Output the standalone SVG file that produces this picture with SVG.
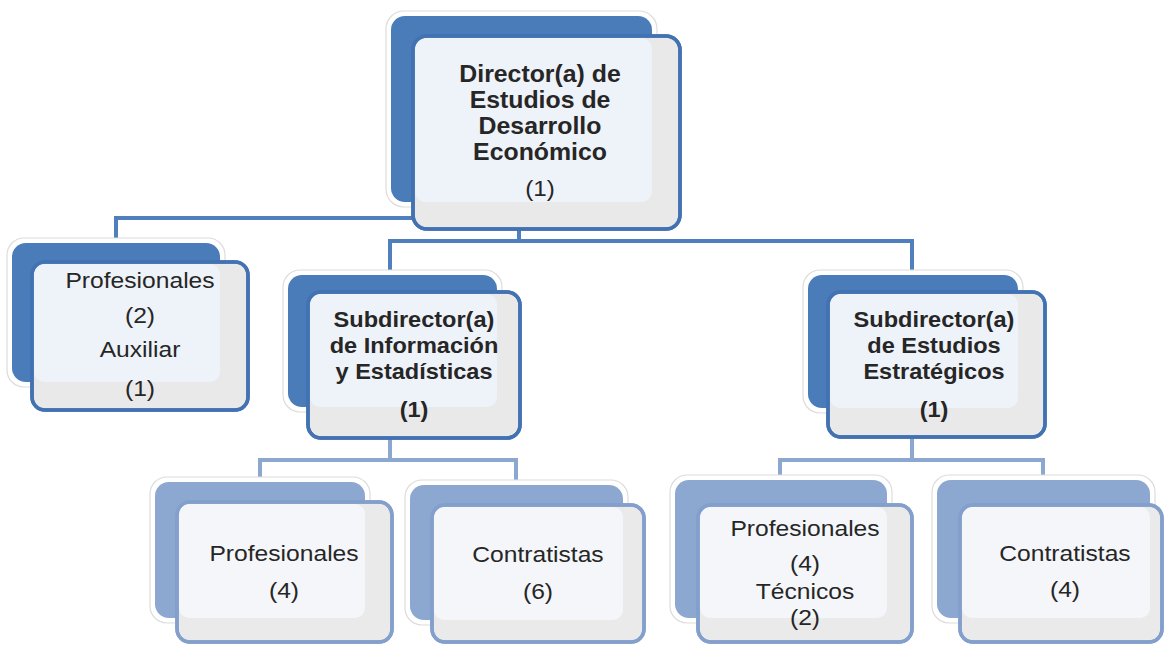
<svg xmlns="http://www.w3.org/2000/svg" width="1165" height="645" viewBox="0 0 1165 645">
<style>
.bg{fill:#ffffff}
.halo{fill:#ffffff;stroke:#dcdcdc;stroke-width:1.2}
.back1{fill:#4A7CBA}
.back2{fill:#8DA8D0}
.front1{fill:#E9E9E9;stroke:#4272B2;stroke-width:3.5}
.front2{fill:#EAEAEA;stroke:#839FCB;stroke-width:3.5}
.edge1{fill:none;stroke:#4272B2;stroke-width:3.5}
.edge2{fill:none;stroke:#839FCB;stroke-width:3.5}
.in1{fill:#EEF2F9}
.in2{fill:#F4F6FA}
.c1{fill:none;stroke:#4F7FBD;stroke-width:4}
.c2{fill:none;stroke:#8CA7D0;stroke-width:4}
text{font-family:"Liberation Sans",Arial,sans-serif;fill:#262626;text-anchor:middle}
.b{font-weight:bold;font-size:23px}
.bs{font-weight:bold;font-size:22px}
.r{font-size:22px}
</style>
<rect class="bg" x="0" y="0" width="1165" height="645"/>
<g id="connectors">
  <path class="c1" d="M413 218 H116 V239"/>
  <path class="c1" d="M519 229 V241 M388 241 H914 M390 241 V276 M912 241 V276"/>
  <path class="c2" d="M390 438 V460 M258 460 H518 M260 460 V479 M516 460 V481"/>
  <path class="c2" d="M912 437 V460 M778 460 H1045 M780 460 V479 M1043 460 V479"/>
</g>
<g id="n-director">
  <rect class="halo" x="386" y="11" width="271" height="196" rx="18"/>
  <rect class="back1" x="391" y="16" width="261" height="186" rx="14"/>
  <rect class="front1" x="413" y="36" width="267" height="193" rx="14"/>
  <rect class="in1" x="415" y="38" width="237" height="164" rx="11"/>
  <rect class="edge1" x="413" y="36" width="267" height="193" rx="14"/>
  <g transform="translate(540 0) scale(1.08 1)">
    <text class="b" x="0" y="82">Director(a) de</text>
    <text class="b" x="0" y="108">Estudios de</text>
    <text class="b" x="0" y="134">Desarrollo</text>
    <text class="b" x="0" y="160">Económico</text>
  </g>
  <g transform="translate(540 0) scale(1.1 1)">
    <text class="r" x="0" y="196">(1)</text>
  </g>
</g>
<g id="n-profesionales-aux">
  <rect class="halo" x="7" y="238" width="218" height="149" rx="17"/>
  <rect class="back1" x="12" y="243" width="208" height="139" rx="14"/>
  <rect class="front1" x="32" y="262" width="216" height="148" rx="13"/>
  <rect class="in1" x="34" y="264" width="186" height="118" rx="10"/>
  <rect class="edge1" x="32" y="262" width="216" height="148" rx="13"/>
  <g transform="translate(140 0) scale(1.12 1)">
    <text class="r" x="0" y="288">Profesionales</text>
    <text class="r" x="0" y="323">(2)</text>
    <text class="r" x="0" y="357">Auxiliar</text>
    <text class="r" x="0" y="396">(1)</text>
  </g>
</g>
<g id="n-sub-info">
  <rect class="halo" x="283" y="270" width="219" height="142" rx="17"/>
  <rect class="back1" x="288" y="275" width="209" height="132" rx="14"/>
  <rect class="front1" x="308" y="292" width="212" height="146" rx="13"/>
  <rect class="in1" x="310" y="294" width="187" height="113" rx="10"/>
  <rect class="edge1" x="308" y="292" width="212" height="146" rx="13"/>
  <g transform="translate(414 0) scale(1.07 1)">
    <text class="bs" x="0" y="327">Subdirector(a)</text>
    <text class="bs" x="0" y="353">de Información</text>
    <text class="bs" x="0" y="379">y Estadísticas</text>
    <text class="bs" x="0" y="417">(1)</text>
  </g>
</g>
<g id="n-sub-estrategicos">
  <rect class="halo" x="803" y="270" width="220" height="143" rx="17"/>
  <rect class="back1" x="808" y="275" width="210" height="133" rx="14"/>
  <rect class="front1" x="828" y="292" width="217" height="145" rx="13"/>
  <rect class="in1" x="830" y="294" width="188" height="114" rx="10"/>
  <rect class="edge1" x="828" y="292" width="217" height="145" rx="13"/>
  <g transform="translate(934 0) scale(1.07 1)">
    <text class="bs" x="0" y="327">Subdirector(a)</text>
    <text class="bs" x="0" y="353">de Estudios</text>
    <text class="bs" x="0" y="379">Estratégicos</text>
    <text class="bs" x="0" y="417">(1)</text>
  </g>
</g>
<g id="n-profesionales-info">
  <rect class="halo" x="150" y="477" width="220" height="146" rx="17"/>
  <rect class="back2" x="155" y="482" width="210" height="136" rx="14"/>
  <rect class="front2" x="177" y="502" width="215" height="140" rx="13"/>
  <rect class="in2" x="179" y="504" width="186" height="114" rx="10"/>
  <rect class="edge2" x="177" y="502" width="215" height="140" rx="13"/>
  <g transform="translate(284 0) scale(1.12 1)">
    <text class="r" x="0" y="561">Profesionales</text>
    <text class="r" x="0" y="598">(4)</text>
  </g>
</g>
<g id="n-contratistas-info">
  <rect class="halo" x="405" y="480" width="223" height="145" rx="17"/>
  <rect class="back2" x="410" y="485" width="213" height="135" rx="14"/>
  <rect class="front2" x="432" y="505" width="212" height="137" rx="13"/>
  <rect class="in2" x="434" y="507" width="189" height="113" rx="10"/>
  <rect class="edge2" x="432" y="505" width="212" height="137" rx="13"/>
  <g transform="translate(538 0) scale(1.12 1)">
    <text class="r" x="0" y="562">Contratistas</text>
    <text class="r" x="0" y="599">(6)</text>
  </g>
</g>
<g id="n-profesionales-tecnicos">
  <rect class="halo" x="670" y="475" width="222" height="148" rx="17"/>
  <rect class="back2" x="675" y="480" width="212" height="138" rx="14"/>
  <rect class="front2" x="698" y="505" width="214" height="137" rx="13"/>
  <rect class="in2" x="700" y="507" width="187" height="111" rx="10"/>
  <rect class="edge2" x="698" y="505" width="214" height="137" rx="13"/>
  <g transform="translate(805 0) scale(1.12 1)">
    <text class="r" x="0" y="536">Profesionales</text>
    <text class="r" x="0" y="571">(4)</text>
    <text class="r" x="0" y="599">Técnicos</text>
    <text class="r" x="0" y="625">(2)</text>
  </g>
</g>
<g id="n-contratistas-estr">
  <rect class="halo" x="932" y="475" width="223" height="148" rx="17"/>
  <rect class="back2" x="937" y="480" width="213" height="138" rx="14"/>
  <rect class="front2" x="960" y="505" width="202" height="137" rx="13"/>
  <rect class="in2" x="962" y="507" width="188" height="111" rx="10"/>
  <rect class="edge2" x="960" y="505" width="202" height="137" rx="13"/>
  <g transform="translate(1065 0) scale(1.12 1)">
    <text class="r" x="0" y="561">Contratistas</text>
    <text class="r" x="0" y="597">(4)</text>
  </g>
</g>
</svg>
